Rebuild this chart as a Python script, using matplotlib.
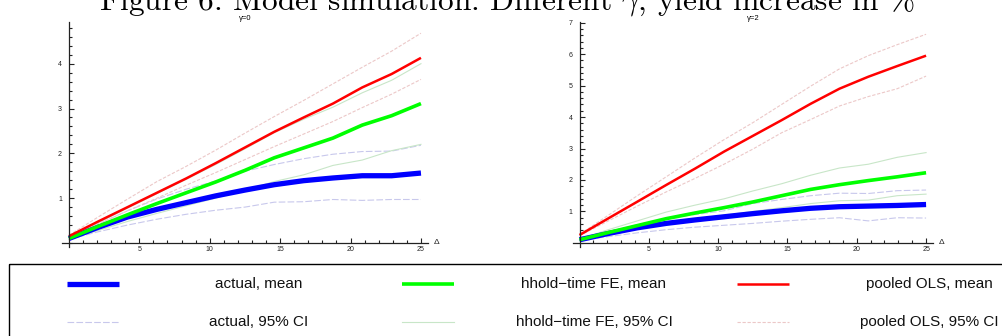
import matplotlib
matplotlib.use("Agg")
import matplotlib.pyplot as plt
from matplotlib.ticker import MultipleLocator, FixedLocator

plt.rcParams['font.family'] = ['Liberation Sans', 'DejaVu Sans']
plt.rcParams['mathtext.fontset'] = 'cm'

# data
delta = [0, 2.08, 4.17, 6.25, 8.33, 10.42, 12.5, 14.58, 16.67, 18.75, 20.83, 22.92, 25]

# gamma = 0
blue_mean0 = [0.10, 0.35, 0.58, 0.75, 0.90, 1.05, 1.18, 1.30, 1.39, 1.45, 1.50, 1.50, 1.56]
blue_hi0 = [0.12, 0.42, 0.72, 0.98, 1.20, 1.38, 1.60, 1.75, 1.88, 1.98, 2.04, 2.05, 2.18]
blue_lo0 = [0.08, 0.25, 0.40, 0.53, 0.64, 0.73, 0.80, 0.91, 0.92, 0.97, 0.95, 0.97, 0.97]
green_mean0 = [0.10, 0.37, 0.63, 0.88, 1.12, 1.36, 1.62, 1.90, 2.12, 2.34, 2.63, 2.84, 3.11]
green_hi0 = [0.12, 0.45, 0.78, 1.10, 1.42, 1.75, 2.10, 2.46, 2.76, 3.03, 3.35, 3.63, 4.00]
green_lo0 = [0.08, 0.28, 0.48, 0.66, 0.83, 1.00, 1.18, 1.37, 1.52, 1.73, 1.85, 2.06, 2.20]
red_mean0 = [0.15, 0.48, 0.80, 1.12, 1.44, 1.78, 2.13, 2.48, 2.80, 3.11, 3.47, 3.77, 4.13]
red_hi0 = [0.17, 0.58, 0.98, 1.37, 1.71, 2.07, 2.45, 2.82, 3.18, 3.55, 3.92, 4.28, 4.68]
red_lo0 = [0.13, 0.42, 0.72, 1.00, 1.29, 1.57, 1.86, 2.15, 2.43, 2.71, 3.02, 3.32, 3.65]

# gamma = 2
blue_mean2 = [0.10, 0.30, 0.48, 0.62, 0.73, 0.83, 0.93, 1.02, 1.10, 1.15, 1.17, 1.19, 1.22]
blue_hi2 = [0.12, 0.35, 0.58, 0.78, 0.90, 1.02, 1.25, 1.38, 1.50, 1.58, 1.57, 1.66, 1.68]
blue_lo2 = [0.08, 0.20, 0.32, 0.42, 0.50, 0.56, 0.62, 0.69, 0.75, 0.80, 0.70, 0.80, 0.79]
green_mean2 = [0.10, 0.33, 0.55, 0.77, 0.95, 1.12, 1.30, 1.50, 1.70, 1.85, 1.98, 2.10, 2.23]
green_hi2 = [0.12, 0.42, 0.70, 0.98, 1.20, 1.40, 1.65, 1.88, 2.15, 2.38, 2.50, 2.72, 2.87]
green_lo2 = [0.08, 0.27, 0.45, 0.62, 0.76, 0.88, 1.00, 1.12, 1.25, 1.34, 1.36, 1.50, 1.55]
red_mean2 = [0.25, 0.78, 1.31, 1.84, 2.36, 2.90, 3.40, 3.90, 4.42, 4.90, 5.28, 5.62, 5.95]
red_hi2 = [0.27, 0.88, 1.50, 2.10, 2.70, 3.28, 3.82, 4.40, 4.98, 5.53, 5.95, 6.30, 6.63]
red_lo2 = [0.23, 0.70, 1.17, 1.62, 2.05, 2.50, 2.98, 3.50, 3.92, 4.35, 4.65, 4.90, 5.30]

panel_titles = ['γ=0', 'γ=2']
legend_labels = ['actual, mean', 'hhold\u2212time FE, mean', 'pooled OLS, mean',
                 'actual, 95% CI', 'hhold\u2212time FE, 95% CI', 'pooled OLS, 95% CI']

# styles
BLUE, GREEN, RED = '#0000ff', '#00ff00', '#ff0000'
ci_blue = dict(color='#c8c8ec', lw=0.8, dashes=(6, 2))
ci_green = dict(color='#c8e6c8', lw=0.8)
ci_red = dict(color='#ecc8c8', lw=0.8, dashes=(3, 1.5))
mean_blue = dict(color=BLUE, lw=3.8, solid_capstyle='butt')
mean_green = dict(color=GREEN, lw=2.6, solid_capstyle='butt')
mean_red = dict(color=RED, lw=1.8, solid_capstyle='butt')

fig = plt.figure(figsize=(10.02, 3.36), dpi=100)

# main title, partly cut off at the top as in the source
fig.text(0.506, 1 - 9 / 336, r'Figure 6: Model simulation: Different $\gamma$, yield increase in %',
         ha='center', va='baseline', fontsize=22.6, family='cmr10')

panels = [
    dict(pos=[62.3 / 1002, 89 / 336, 365.7 / 1002, 225 / 336], ylim=(-0.09, 4.93), ymax=4,
         data=(blue_mean0, blue_hi0, blue_lo0, green_mean0, green_hi0, green_lo0,
               red_mean0, red_hi0, red_lo0)),
    dict(pos=[573 / 1002, 89 / 336, 360 / 1002, 225 / 336], ylim=(-0.13, 7.02), ymax=7,
         data=(blue_mean2, blue_hi2, blue_lo2, green_mean2, green_hi2, green_lo2,
               red_mean2, red_hi2, red_lo2)),
]

for p, title in zip(panels, panel_titles):
    ax = fig.add_axes(p['pos'])
    bm, bh, bl, gm, gh, gl, rm, rh, rl = p['data']
    # CI lines first, means on top
    ax.plot(delta, bh, **ci_blue)
    ax.plot(delta, bl, **ci_blue)
    ax.plot(delta, gh, **ci_green)
    ax.plot(delta, gl, **ci_green)
    ax.plot(delta, rh, **ci_red)
    ax.plot(delta, rl, **ci_red)
    ax.plot(delta, bm, **mean_blue)
    ax.plot(delta, gm, **mean_green)
    ax.plot(delta, rm, **mean_red)

    ax.set_xlim(-0.47, 25.5)
    ax.set_ylim(*p['ylim'])
    for s in ['top', 'right']:
        ax.spines[s].set_visible(False)
    ax.spines['left'].set_position(('data', 0))
    ax.spines['bottom'].set_position(('data', 0))
    for s in ['left', 'bottom']:
        ax.spines[s].set_linewidth(0.9)
        ax.spines[s].set_color('#222222')

    ax.xaxis.set_major_locator(FixedLocator([5, 10, 15, 20, 25]))
    ax.xaxis.set_minor_locator(FixedLocator([i for i in range(1, 26) if i % 5]))
    ax.yaxis.set_major_locator(FixedLocator(list(range(1, p['ymax'] + 1))))
    ax.yaxis.set_minor_locator(MultipleLocator(0.2))
    ax.tick_params(which='both', direction='in', color='#222222', width=0.8,
                   labelsize=5, labelcolor='#222222')
    ax.tick_params(which='major', length=3.5)
    ax.tick_params(which='minor', length=2)
    ax.tick_params(axis='y', pad=5)
    ax.tick_params(axis='x', pad=2)

    ax.text(1.015, 0, '\u0394', transform=ax.get_yaxis_transform(), ha='left', va='center',
            fontsize=6, color='#222222')
    ax.set_title(title, fontsize=5.5, pad=1)

# legend box in pixel coordinates
lax = fig.add_axes([0, 0, 1, 1], zorder=-1)
lax.set_xlim(0, 1002)
lax.set_ylim(336, 0)
lax.axis('off')
lax.add_patch(plt.Rectangle((9, 264), 1010, 90, fill=False, ec='black', lw=1.0))

styles = [mean_blue, mean_green, mean_red, ci_blue, ci_green, ci_red]
for i, (lab, st) in enumerate(zip(legend_labels, styles)):
    col, row = i % 3, i // 3
    x0 = 67 + 335 * col
    yy = 284 + 38 * row
    lax.plot([x0, x0 + 52], [yy, yy], **st)
    lax.text(259 + 335 * col, yy, lab, ha='center', va='center', fontsize=11, color='#111111')

fig.savefig('out.png', dpi=100)
